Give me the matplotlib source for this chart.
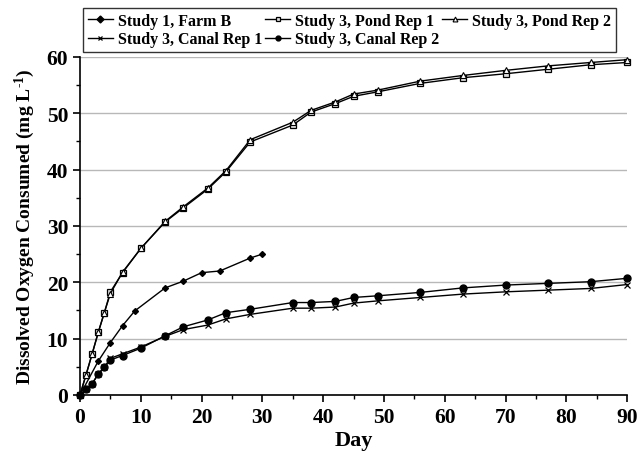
import matplotlib.pyplot as plt
from matplotlib.ticker import MultipleLocator

plt.rcParams['font.family'] = ['Liberation Serif', 'DejaVu Serif']
plt.rcParams['font.weight'] = 'bold'
plt.rcParams['mathtext.fontset'] = 'custom'
plt.rcParams['mathtext.rm'] = 'Liberation Serif:bold'
plt.rcParams['mathtext.bf'] = 'Liberation Serif:bold'
plt.rcParams['mathtext.default'] = 'bf'

# days sampled in study 3 (pond and canal)
days_s3 = [0, 1, 2, 3, 4, 5, 7, 10, 14, 17, 21, 24, 28, 35, 38, 42, 45, 49, 56, 63, 70, 77, 84, 90]
pond_rep1 = [0, 3.6, 7.3, 11.1, 14.6, 18.3, 21.7, 26.0, 30.7, 33.2, 36.5, 39.6, 44.9, 47.9, 50.2,
             51.7, 53.0, 53.8, 55.3, 56.3, 57.0, 57.8, 58.6, 59.0]
pond_rep2 = [0, 3.6, 7.3, 11.1, 14.6, 18.0, 21.8, 26.0, 30.8, 33.4, 36.7, 39.8, 45.3, 48.4, 50.5,
             52.0, 53.4, 54.1, 55.7, 56.7, 57.6, 58.4, 59.0, 59.5]
canal_rep1 = [0, 1.0, 2.0, 3.7, 4.9, 6.5, 7.3, 8.5, 10.4, 11.6, 12.4, 13.5, 14.3, 15.4, 15.4,
              15.6, 16.3, 16.7, 17.3, 17.9, 18.3, 18.6, 18.9, 19.6]
canal_rep2 = [0, 1.0, 2.0, 3.7, 5.0, 6.2, 7.0, 8.3, 10.5, 12.1, 13.3, 14.6, 15.2, 16.4, 16.4,
              16.6, 17.3, 17.6, 18.2, 19.0, 19.5, 19.8, 20.1, 20.7]

# study 1, farm B
days_s1 = [0, 3, 5, 7, 9, 14, 17, 20, 23, 28, 30]
farm_b = [0, 6.0, 9.3, 12.3, 14.9, 19.0, 20.2, 21.7, 22.0, 24.3, 25.0]

fig = plt.figure(figsize=(6.4, 4.52), dpi=100)
ax = fig.add_axes([0.125, 0.124, 0.855, 0.748])

kw = dict(color='black', lw=1.0, clip_on=False, zorder=3)
h_farm, = ax.plot(days_s1, farm_b, marker='D', ms=3, mfc='black', label='Study 1, Farm B', **kw)
h_p1, = ax.plot(days_s3, pond_rep1, marker='s', ms=5, mfc='#dddddd', mew=0.9,
                label='Study 3, Pond Rep 1', **kw)
h_p2, = ax.plot(days_s3, pond_rep2, marker='^', ms=4.5, mfc='white', mew=0.8,
                label='Study 3, Pond Rep 2', **kw)
h_c1, = ax.plot(days_s3, canal_rep1, marker='x', ms=4.5, mew=0.9, label='Study 3, Canal Rep 1', **kw)
h_c2, = ax.plot(days_s3, canal_rep2, marker='o', ms=5, mfc='black', label='Study 3, Canal Rep 2', **kw)

ax.set_xlim(0, 90)
ax.set_ylim(0, 60)
ax.xaxis.set_major_locator(MultipleLocator(10))
ax.xaxis.set_minor_locator(MultipleLocator(5))
ax.yaxis.set_major_locator(MultipleLocator(10))
ax.yaxis.set_minor_locator(MultipleLocator(5))
ax.yaxis.grid(True, which='major', color='#b8b8b8', lw=1.0)
ax.set_axisbelow(True)

for s in ['top', 'right']:
    ax.spines[s].set_visible(False)
for s in ['left', 'bottom']:
    ax.spines[s].set_linewidth(1.2)

ax.tick_params(which='major', direction='out', length=5, width=1.2, labelsize=15.5)
ax.tick_params(which='minor', direction='out', length=3, width=1.0)
for lab in ax.get_xticklabels() + ax.get_yticklabels():
    lab.set_fontweight('bold')

ax.set_xlabel('Day', fontsize=16, fontweight='bold', labelpad=2)
ax.set_ylabel('Dissolved Oxygen Consumed (mg L$^{\\text{-}1}$)', fontsize=14, fontweight='bold', labelpad=7)

handles = [h_farm, h_c1, h_p1, h_c2, h_p2]
leg = fig.legend(handles=handles, labels=[h.get_label() for h in handles], ncol=3,
                 loc='center', bbox_to_anchor=(0.117, 0.889, 0.858, 0.084), mode='expand',
                 handlelength=1.6, handletextpad=0.3, columnspacing=0.8,
                 labelspacing=0.15, borderpad=0.3, fancybox=False, frameon=True,
                 prop={'weight': 'bold', 'size': 11.5})
leg.get_frame().set_edgecolor('black')
leg.get_frame().set_linewidth(1.0)
for h in leg.legend_handles:
    h.set_markersize(3.5)

fig.savefig('out.png', dpi=100)
